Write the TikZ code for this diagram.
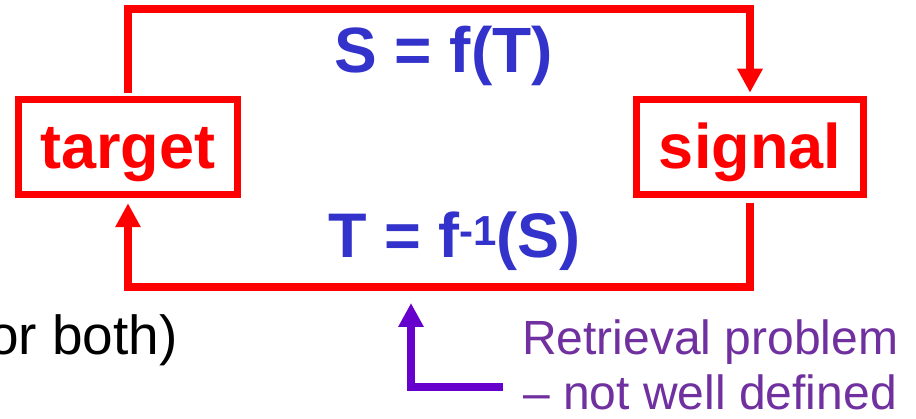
\documentclass[tikz,border=0pt]{standalone}
\usepackage{fontspec}
\setmainfont{Liberation Sans}
\usetikzlibrary{arrows.meta,calc}
\definecolor{lred}{HTML}{FF0000}
\definecolor{lblue}{HTML}{3333CC}
\definecolor{lpurple}{HTML}{7030A0}
\definecolor{lviolet}{HTML}{6600CC}
\begin{document}
\begin{tikzpicture}[x=1pt,y=-1pt,
  boxnode/.style={draw=lred, line width=7.5pt, minimum height=95pt, inner sep=0pt, outer sep=3.75pt,
    text=lred, font=\bfseries\fontsize{63}{63}\selectfont, text height=50pt, text depth=6pt},
  loopline/.style={draw=lred, line width=7.5pt, line join=miter, -{Triangle[width=24pt,length=24pt]}},
  eqtext/.style={text=lblue, font=\bfseries\fontsize{63}{63}\selectfont, inner sep=0pt, anchor=base},
  purpletext/.style={text=lpurple, font=\fontsize{48}{48}\selectfont, inner sep=0pt, anchor=base west},
  violetarrow/.style={draw=lviolet, line width=8pt, line join=miter, -{Triangle[width=24pt,length=24pt]}}
]
\useasboundingbox (0,0) rectangle (916,419);
\fill[white] (0,0) rectangle (916,419);

\node[boxnode, minimum width=219pt] (target) at (128,147) {target};
\node[boxnode, minimum width=227pt] (signal) at (750,147) {signal};

\coordinate (topy) at (0,9);
\coordinate (boty) at (0,287);
\draw[loopline, shorten <=3pt, shorten >=3pt] (target.north) -- (target.north |- topy) -| (signal.north);
\draw[loopline, shorten <=5pt, shorten >=5pt] (signal.south) -- (signal.south |- boty) -| (target.south);

\node[eqtext, font=\bfseries\fontsize{64}{64}\selectfont] (seq) at (443.5,73) {S = f(T)};
\node[eqtext] (teq) at (454.5,258) {T = f\raisebox{12pt}{\bfseries\fontsize{42}{42}\selectfont -1}(S)};

\coordinate (pstart) at (503,387);
\coordinate (ptip) at (411,303);
\draw[violetarrow] (pstart) -| (ptip);

\node[purpletext] (ret1) at (522,355) {Retrieval problem};
\node[purpletext] (ret2) at (523,410) {– not well defined};

\node[text=black, font=\fontsize{55}{55}\selectfont, inner sep=0pt, anchor=base east] (both) at (178,355) {or both)};
\end{tikzpicture}
\end{document}
